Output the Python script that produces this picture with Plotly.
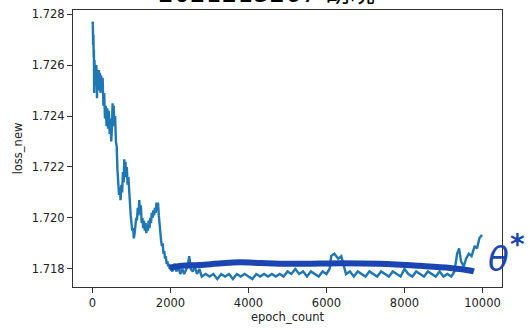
import plotly.graph_objects as go

# ---- data ----
epochs = [0, 8, 16, 24, 30, 36, 42, 50, 60, 70, 85, 100, 115, 130, 145, 160, 175, 190, 205, 220, 240, 260, 280, 300, 320, 340, 360, 380, 400, 420, 440, 460, 480, 500, 515, 530, 545, 560, 580, 600, 620, 640, 660, 680, 700, 720, 740, 760, 780, 800, 815, 830, 845, 860, 880, 900, 920, 940, 960, 980, 1000, 1020, 1040, 1060, 1080, 1100, 1120, 1140, 1160, 1180, 1200, 1220, 1240, 1260, 1280, 1300, 1320, 1340, 1360, 1380, 1400, 1420, 1440, 1460, 1480, 1500, 1520, 1540, 1560, 1580, 1600, 1620, 1640, 1660, 1680, 1700, 1720, 1740, 1760, 1780, 1800, 1820, 1840, 1860, 1880, 1900, 1920, 1940, 1960, 1980, 2000, 2050, 2100, 2150, 2200, 2250, 2300, 2350, 2400, 2440, 2480, 2520, 2570, 2620, 2680, 2740, 2800, 2900, 3000, 3100, 3200, 3300, 3400, 3500, 3600, 3700, 3800, 3900, 4000, 4100, 4200, 4300, 4400, 4500, 4600, 4700, 4800, 4900, 5000, 5100, 5200, 5300, 5400, 5500, 5600, 5700, 5800, 5900, 6000, 6080, 6120, 6200, 6300, 6380, 6440, 6500, 6600, 6700, 6800, 6900, 7000, 7100, 7200, 7300, 7400, 7500, 7600, 7700, 7800, 7900, 8000, 8100, 8200, 8300, 8400, 8500, 8600, 8700, 8800, 8900, 9000, 9100, 9200, 9280, 9350, 9400, 9450, 9520, 9580, 9650, 9720, 9800, 9860, 9920, 9970, 10000]
loss_new = [1.7276, 1.7277, 1.7268, 1.7272, 1.7263, 1.7266, 1.7249, 1.7262, 1.7257, 1.7260, 1.7252, 1.7260, 1.7247, 1.7258, 1.7250, 1.7258, 1.7252, 1.7257, 1.7249, 1.7256, 1.7250, 1.7255, 1.7244, 1.7249, 1.7239, 1.7244, 1.7236, 1.7243, 1.7235, 1.7242, 1.7233, 1.7239, 1.7230, 1.7236, 1.7245, 1.7238, 1.7244, 1.7236, 1.7240, 1.7230, 1.7228, 1.7219, 1.7214, 1.7209, 1.7212, 1.7207, 1.7213, 1.7210, 1.7218, 1.7214, 1.7223, 1.7218, 1.7222, 1.7216, 1.7220, 1.7213, 1.7216, 1.7209, 1.7205, 1.7201, 1.7198, 1.7195, 1.7196, 1.7192, 1.7194, 1.7197, 1.7200, 1.7199, 1.7204, 1.7201, 1.7207, 1.7202, 1.7205, 1.7198, 1.7200, 1.7196, 1.7199, 1.7195, 1.7198, 1.7194, 1.7197, 1.7195, 1.7199, 1.7196, 1.7200, 1.7198, 1.7202, 1.7200, 1.7203, 1.7201, 1.7204, 1.7202, 1.7206, 1.7203, 1.7206, 1.7201, 1.7197, 1.7194, 1.7191, 1.7189, 1.7190, 1.7186, 1.7187, 1.7184, 1.7185, 1.7182, 1.7183, 1.7181, 1.7182, 1.7180, 1.7181, 1.7179, 1.7182, 1.7179, 1.7181, 1.7178, 1.7180, 1.7178, 1.7180, 1.7181, 1.7185, 1.7180, 1.7179, 1.7181, 1.7178, 1.7180, 1.7177, 1.7178, 1.7177, 1.7178, 1.7176, 1.7178, 1.7177, 1.7178, 1.7176, 1.7178, 1.7177, 1.7178, 1.7177, 1.7176, 1.7178, 1.7177, 1.7178, 1.7177, 1.7178, 1.7177, 1.7178, 1.7177, 1.7179, 1.7178, 1.7180, 1.7178, 1.7179, 1.7177, 1.7179, 1.7178, 1.7177, 1.7179, 1.7178, 1.7180, 1.7185, 1.7186, 1.7184, 1.7185, 1.7181, 1.7178, 1.7179, 1.7177, 1.7179, 1.7178, 1.7177, 1.7179, 1.7178, 1.7177, 1.7179, 1.7178, 1.7177, 1.7179, 1.7178, 1.7177, 1.7180, 1.7178, 1.7177, 1.7179, 1.7178, 1.7177, 1.7179, 1.7178, 1.7177, 1.7179, 1.7177, 1.7178, 1.7177, 1.7179, 1.7186, 1.7188, 1.7183, 1.7181, 1.7184, 1.7186, 1.7185, 1.7189, 1.7188, 1.7192, 1.7193, 1.7193]

# hand-drawn trend stroke (θ*)
stroke_epochs = [1970, 2300, 2740, 3300, 3770, 4300, 4800, 5830, 6340, 7370, 8400, 9170, 9680, 9780]
stroke_values = [1.71804, 1.71812, 1.71815, 1.71822, 1.71826, 1.71823, 1.71820, 1.71821, 1.71822, 1.71820, 1.71812, 1.71804, 1.71794, 1.71790]

x_ticks = [0, 2000, 4000, 6000, 8000, 10000]
y_ticks = [1.718, 1.720, 1.722, 1.724, 1.726, 1.728]
y_tick_text = ["1.718", "1.720", "1.722", "1.724", "1.726", "1.728"]

title_text = "2021213267 胡晓"
x_label = "epoch_count"
y_label = "loss_new"

STROKE = "#1b45b2"
FONT = "DejaVu Sans, Noto Sans CJK SC, sans-serif"

fig = go.Figure()
fig.add_trace(go.Scatter(x=epochs, y=loss_new, mode="lines",
                         line=dict(color="#1f77b4", width=2.4), showlegend=False))
fig.add_trace(go.Scatter(x=stroke_epochs, y=stroke_values, mode="lines",
                         line=dict(color=STROKE, width=6, shape="spline"), showlegend=False))

axis_common = dict(showline=True, linecolor="#333", linewidth=1, mirror=True,
                   ticks="outside", ticklen=5, tickwidth=1, tickcolor="#333",
                   showgrid=False, zeroline=False, automargin=False,
                   tickfont=dict(family=FONT, size=11.5, color="#222"))

fig.update_xaxes(range=[-500, 10500], tickvals=x_ticks, ticktext=[str(v) for v in x_ticks],
                 title=dict(text=x_label, font=dict(family=FONT, size=11.5, color="#222"), standoff=4),
                 **axis_common)
fig.update_yaxes(range=[1.71729, 1.72816], tickvals=y_ticks, ticktext=y_tick_text,
                 title=dict(text=y_label, font=dict(family=FONT, size=11.5, color="#222"), standoff=6),
                 **axis_common)

fig.add_annotation(text=title_text, xref="paper", yref="paper", x=0.45, y=1.0,
                   xanchor="center", yanchor="bottom", showarrow=False,
                   font=dict(family=FONT, size=25, color="black"))
fig.add_annotation(text="<i>θ</i>", xref="paper", yref="paper", x=0.993, y=0.1,
                   xanchor="center", yanchor="middle", showarrow=False,
                   font=dict(family="DejaVu Sans", size=34, color=STROKE))
fig.add_annotation(text="<b>*</b>", xref="paper", yref="paper", x=1.035, y=0.155,
                   xanchor="center", yanchor="middle", showarrow=False,
                   font=dict(family="DejaVu Sans", size=28, color=STROKE))

fig.update_layout(width=530, height=330, autosize=False,
                  margin=dict(l=73, r=28, t=10, b=43, autoexpand=False),
                  paper_bgcolor="white", plot_bgcolor="white",
                  font=dict(family=FONT))

fig.write_html("out.html", config={"displayModeBar": False},
               post_script="document.body.style.margin='0';document.body.style.padding='0';document.body.style.overflow='hidden';")
